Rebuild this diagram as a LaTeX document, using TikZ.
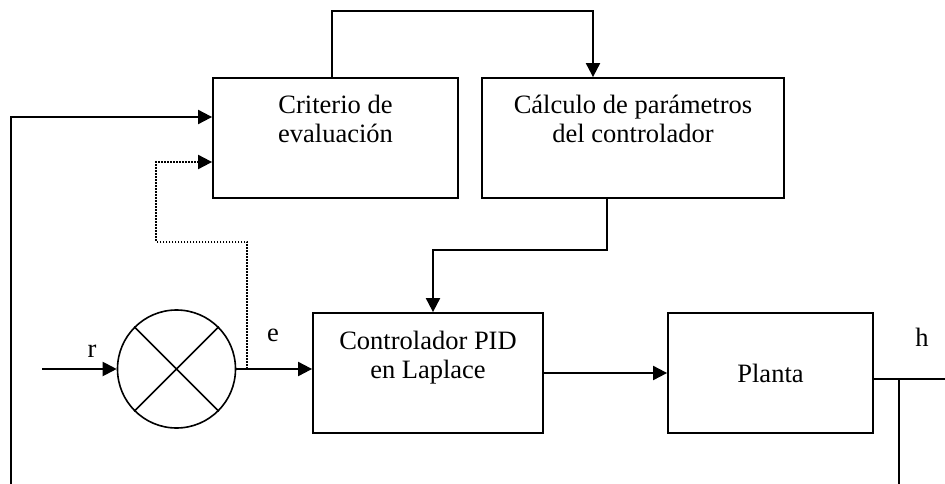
\documentclass[tikz,border=0pt]{standalone}
\usepackage{fontspec}
\setmainfont{Liberation Serif}
\usetikzlibrary{arrows.meta,positioning}

\begin{document}
\begin{tikzpicture}[x=1pt,y=-1pt,
  every node/.style={inner sep=0pt, font=\fontsize{26.5}{29}\selectfont},
  blk/.style={draw, line width=1.8pt, minimum height=120pt},
  arr/.style={line width=2pt, -{Triangle[length=14pt,width=14pt]}},
  dotarr/.style={arr, dash pattern=on 1.6pt off 1.4pt, line width=2pt},
  thinline/.style={line width=1.2pt}]
\useasboundingbox (0,0) rectangle (945,484);
\node[blk, minimum width=245pt] (crit) at (335.5,138) {};
\node[blk, minimum width=302pt] (calc) at (633,138) {};
\node[blk, minimum width=230pt] (ctrl) at (428,373) {};
\node[blk, minimum width=205pt] (plant) at (770.5,373) {Planta};
\node[draw, circle, line width=1.6pt, minimum size=118pt] (sum) at (176.5,369) {};
\draw[line width=1.6pt] (sum.north west) -- (sum.south east) (sum.north east) -- (sum.south west);
\node[align=center, below=18pt of crit.north] (crittxt) {Criterio de\\evaluación};
\node[align=center, below=18pt of calc.north] (calctxt) {Cálculo de parámetros\\del controlador};
\node[align=center, below=19pt of ctrl.north] (ctrltxt) {Controlador PID\\en Laplace};
\node (rlbl) at (92,351) {r};
\node (elbl) at (273,335) {e};
\node (hlbl) at (922,337) {h};
\coordinate (rin) at (42,369);
\coordinate (tap) at ([xshift=11pt]sum.east);
\coordinate (fbl) at (11,484);
\coordinate (hout) at (945,379);
\coordinate (fbr) at (899,484);
\draw[arr] ([xshift=-3.5pt]crit.north) -- ++(0,-66) -| ([xshift=-40pt]calc.north);
\draw[arr] ([xshift=-26pt]calc.south) -- ++(0,51) -| ([xshift=5pt]ctrl.north);
\draw[arr] (rin) -- (sum);
\draw[arr] (sum.east) -- (ctrl.west |- sum.east);
\draw[dotarr] (tap) -- ++(0,-127) -- ++(-91,0) |- ([yshift=-24pt]crit.west);
\draw[arr] (fbl) |- ([yshift=21pt]crit.west);
\draw[arr] (ctrl) -- (plant);
\draw[thinline] ([yshift=-6pt]plant.east) -- (hout);
\draw[thinline] (fbr) -- (fbr |- hout);
\end{tikzpicture}
\end{document}
